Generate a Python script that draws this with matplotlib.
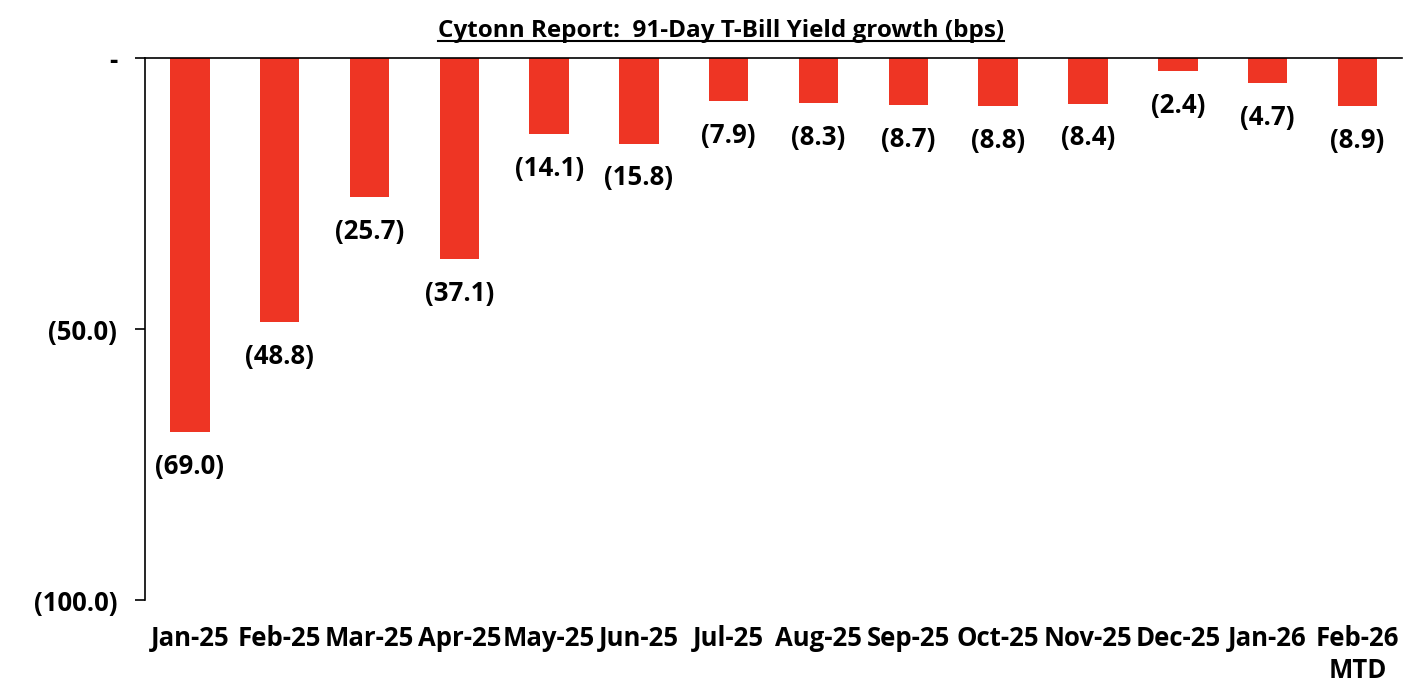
import matplotlib
matplotlib.use("Agg")
import matplotlib.pyplot as plt
from matplotlib.lines import Line2D

categories = ["Jan-25", "Feb-25", "Mar-25", "Apr-25", "May-25", "Jun-25", "Jul-25",
              "Aug-25", "Sep-25", "Oct-25", "Nov-25", "Dec-25", "Jan-26", "Feb-26\nMTD"]
values = [-69.0, -48.8, -25.7, -37.1, -14.1, -15.8, -7.9, -8.3, -8.7, -8.8, -8.4, -2.4, -4.7, -8.9]
yticks = [0, -50, -100]
ytick_labels = ["-", "(50.0)", "(100.0)"]
title = "Cytonn Report:  91-Day T-Bill Yield growth (bps)"

plt.rcParams['font.family'] = ['Open Sans', 'DejaVu Sans']
FS = 18.5

fig = plt.figure(figsize=(14.28, 6.98), dpi=100)
ax = fig.add_axes([0.1015, 0.1404, 0.8805, 0.7765])
x = list(range(len(categories)))
ax.bar(x, values, width=0.44, color="#EE3524", zorder=2)
ax.set_ylim(-100, 0)
ax.set_xlim(-0.5, len(categories) - 0.5)
ax.set_yticks(yticks)
ax.set_yticklabels(ytick_labels, fontsize=FS, fontweight='bold')
ax.set_xticks(x)
ax.set_xticklabels(categories, fontsize=FS, fontweight='bold', va='top', linespacing=1.25)
ax.tick_params(axis='x', length=0, pad=18)
ax.tick_params(axis='y', length=7, width=1.2, pad=13, direction='out')
for s in ["right", "bottom"]:
    ax.spines[s].set_visible(False)
ax.spines["top"].set_linewidth(1.2)
ax.spines["left"].set_linewidth(1.2)

for xi, v in zip(x, values):
    ax.annotate(f"({abs(v):.1f})", (xi, v), xytext=(0, -15), textcoords="offset points",
                ha="center", va="top", fontsize=FS, fontweight="bold")

t = fig.text(0.505, 0.955, title, ha="center", va="center", fontsize=17.5, fontweight="bold")
fig.canvas.draw()
bb = t.get_window_extent().transformed(fig.transFigure.inverted())
fig.add_artist(Line2D([bb.x0, bb.x1], [bb.y0 + 0.003, bb.y0 + 0.003], color="black",
                      linewidth=1.5, transform=fig.transFigure))

fig.savefig("out.png", dpi=100)
